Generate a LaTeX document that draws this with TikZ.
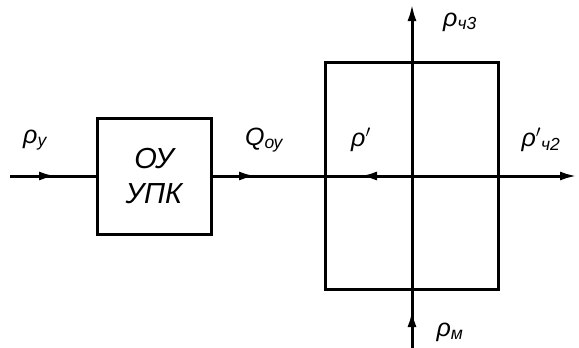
\documentclass[tikz,border=0pt]{standalone}
\usepackage{fontspec}
\setmainfont{Liberation Sans}
\usepackage{tikz}
\usetikzlibrary{arrows.meta,positioning}

\tikzset{
  flow/.style={line width=3pt},
  blockbox/.style={draw,line width=3pt,inner sep=0pt,align=center,
                   font=\fontsize{29}{33}\selectfont\itshape},
  lbl/.style={font=\fontsize{25}{27}\selectfont\itshape,inner sep=0pt},
  tip/.style={-{Latex[length=17pt,width=9pt]}}
}

\begin{document}
\begin{tikzpicture}[x=1pt,y=-1pt]
  \useasboundingbox (0,0) rectangle (579,348);
  % blocks
  \node[blockbox,minimum width=114pt,minimum height=116pt] (ou) at (154,176)
       {ОУ\\[2pt]УПК};
  \node[draw,line width=3pt,minimum width=173pt,minimum height=227pt] (ch) at (412,176) {};
  % free ends
  \coordinate (in) at (10,176);
  \coordinate (inarr) at (56,176);
  \coordinate (qarr) at (256,176);
  \coordinate (parr) at (360,176);
  \coordinate (out) at (577,176);
  \coordinate (top) at (412,4);
  \coordinate (bot) at (412,348);
  \coordinate (botarr) at (412,310);
  % connectors
  \draw[flow] (in) -- (ou.west);
  \draw[flow,tip] (in) -- (inarr);
  \draw[flow] (ou.east) -- (ch.west);
  \draw[flow,tip] (ou.east) -- (qarr);
  \draw[flow] (ch.west) -- (ch.center);
  \draw[flow,tip] (ch.center) -- (parr);
  \draw[flow,tip] (ch.center) -- (out);
  \draw[flow,tip] (ch.center) -- (top);
  \draw[flow] (bot) -- (ch.center);
  \draw[flow,tip] (bot) -- (botarr);
  % labels
  \node[lbl] (py) at (35,140) {ρ\textsubscript{у}};
  \node[lbl] (qoy) at (264,140) {Q\textsubscript{оу}};
  \node[lbl] (pp) at (361,140) {ρ$'$};
  \node[lbl] (pch2) at (541,140) {ρ$'$\textsubscript{ч2}};
  \node[lbl] (pch3) at (460,22) {ρ\textsubscript{ч3}};
  \node[lbl] (pm) at (450,332) {ρ\textsubscript{м}};
\end{tikzpicture}
\end{document}
